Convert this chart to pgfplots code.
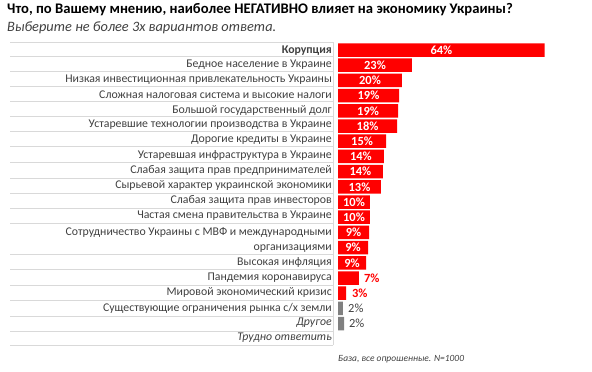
\documentclass[border=0pt]{standalone}
\usepackage{pgfplots}
\pgfplotsset{compat=1.18}
\usepackage{pgfplotstable}
\usepackage{fontspec}
\setmainfont{Carlito}
\definecolor{barred}{HTML}{FF0000}
\definecolor{bargray}{HTML}{808080}
\definecolor{txtgray}{HTML}{404040}
\definecolor{linegray}{HTML}{D9D9D9}

\pgfplotstableread{
y x
50.0 64.0
65.2 22.9
80.4 19.8
95.6 18.9
110.8 18.6
126.0 18.3
141.2 14.9
156.4 14.2
171.6 13.9
186.8 13.3
202.0 9.9
217.2 9.9
232.4 9.6
247.6 9.3
262.8 8.7
278.0 6.5
293.2 2.5
}\redbars
\pgfplotstableread{
y x
308.4 1.5
323.6 1.9
}\graybars
\pgfplotstableread{
y lx lab
50.0 32.0 64
65.2 11.45 23
80.4 9.9 20
95.6 9.45 19
110.8 9.3 19
126.0 9.15 18
141.2 7.45 15
156.4 7.1 14
171.6 6.95 14
186.8 6.65 13
202.0 4.95 10
217.2 4.95 10
232.4 4.8 9
247.6 4.65 9
262.8 4.35 9
}\inlabels
\pgfplotstableread{
y lx lab
278.0 8.0 7
293.2 4.3 3
}\redlabels
\pgfplotstableread{
y lx lab
308.4 3.1 2
323.6 3.4 2
}\graylabels

\begin{document}
\begin{tikzpicture}
\useasboundingbox (0,0) rectangle (592bp,-372bp);
\node[anchor=base west, inner sep=0pt, font=\fontsize{14.7}{16}\selectfont\bfseries] at (7bp,-13bp) {Что, по Вашему мнению, наиболее НЕГАТИВНО влияет на экономику Украины?};
\node[anchor=base west, inner sep=0pt, font=\fontsize{14.4}{16}\selectfont\itshape, text=txtgray] at (7bp,-31bp) {Выберите не более 3х вариантов ответа.};
% table rules
\foreach \yy in {42,56,71,86,101,116,131,146,162.5,178,193,208,223,254,269,285,300,316,331,345}{
  \draw[linegray, line width=0.8bp] (10bp,-\yy bp) -- (333bp,-\yy bp);
}
\draw[linegray, line width=0.8bp] (333bp,-42bp) -- (333bp,-345bp);
\begin{axis}[
  at={(338bp,-35.5bp)}, anchor=north west,
  scale only axis, width=226.1bp, height=312bp,
  xmin=0, xmax=70, ymin=35.5, ymax=347.5, y dir=reverse,
  axis line style={draw=none},
  xtick=\empty,
  /pgf/number format/assume math mode=true,
  ytick={50.5,65,80,95,110,125,140,155.5,170.5,185.5,200.5,216,240,262,277.5,292.5,308,323,338},
  yticklabels={{\textbf{Корупция}},{Бедное население в Украине},{Низкая инвестиционная привлекательность Украины},{Сложная налоговая система и высокие налоги},{Большой государственный долг},{Устаревшие технологии производства в Украине},{Дорогие кредиты в Украине},{Устаревшая инфраструктура в Украине},{Слабая защита прав предпринимателей},{Сырьевой характер украинской экономики},{Слабая защита прав инвесторов},{Частая смена правительства в Украине},{Сотрудничество Украины с МВФ и международными\\организациями},{Высокая инфляция},{Пандемия коронавируса},{Мировой экономический кризис},{Существующие ограничения рынка с/х земли},{\textit{Другое}},{\textit{Трудно ответить}}},
  yticklabel style={anchor=east, inner sep=0pt, xshift=-6bp, align=right, font=\fontsize{11.85}{15}\selectfont, text=txtgray},
  major tick length=0pt,
  clip=false,
]
\addplot[xbar, bar width=13.5bp, bar shift=0pt, fill=barred, draw=none] table[x=x,y=y]{\redbars};
\addplot[xbar, bar width=13.5bp, bar shift=0pt, fill=bargray, draw=none] table[x=x,y=y]{\graybars};
\addplot[draw=none, mark=none, nodes near coords={\pgfmathprintnumber[assume math mode=true]{\pgfplotspointmeta}\%}, point meta=explicit,
  every node near coord/.style={anchor=center, inner sep=0pt, text=white, font=\fontsize{12.5}{14}\selectfont\bfseries}]
  table[x=lx,y=y,meta=lab]{\inlabels};
\addplot[draw=none, mark=none, nodes near coords={\pgfmathprintnumber[assume math mode=true]{\pgfplotspointmeta}\%}, point meta=explicit,
  every node near coord/.style={anchor=west, inner sep=0pt, text=barred, font=\fontsize{12.5}{14}\selectfont\bfseries}]
  table[x=lx,y=y,meta=lab]{\redlabels};
\addplot[draw=none, mark=none, nodes near coords={\pgfmathprintnumber[assume math mode=true]{\pgfplotspointmeta}\%}, point meta=explicit,
  every node near coord/.style={anchor=west, inner sep=0pt, text=txtgray, font=\fontsize{12.5}{14}\selectfont}]
  table[x=lx,y=y,meta=lab]{\graylabels};
\end{axis}
\node[anchor=base west, inner sep=0pt, font=\fontsize{9.5}{11}\selectfont\itshape, text=txtgray] at (338bp,-361bp) {База, все опрошенные. N=1000};
\end{tikzpicture}
\end{document}
